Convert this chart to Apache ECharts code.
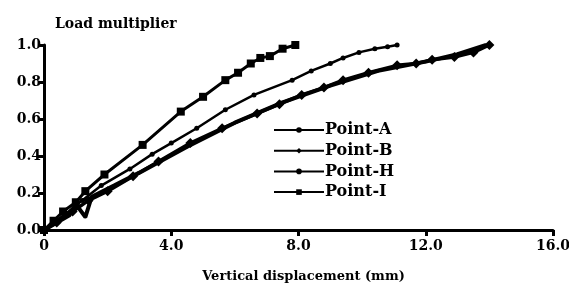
<!DOCTYPE html>
<html>
<head>
  <meta charset="utf-8">
  <title>Load multiplier</title>
  <script src="https://cdn.jsdelivr.net/npm/echarts@6/dist/echarts.min.js"></script>
  <style>
    html, body { margin: 0; padding: 0; background: #fff; }
    #chart { width: 569px; height: 288px; }
  </style>
</head>
<body>
<div id="chart"></div>
<script>
  var seriesNames = ['Point-A', 'Point-B', 'Point-H', 'Point-I'];
  var xTicks = [0, 4, 8, 12, 16];
  var yTicks = [0, 0.2, 0.4, 0.6, 0.8, 1.0];

  // [vertical displacement (mm), load multiplier]
  var pointA = [[0, 0], [0.3, 0.04], [0.7, 0.09], [1.2, 0.16], [1.8, 0.24], [2.7, 0.33], [3.4, 0.41],
    [4.0, 0.47], [4.8, 0.55], [5.7, 0.65], [6.6, 0.73], [7.8, 0.81], [8.4, 0.86], [9.0, 0.9],
    [9.4, 0.93], [9.9, 0.96], [10.4, 0.98], [10.8, 0.99], [11.1, 1.0]];
  var pointB = [[0, 0], [0.4, 0.04], [0.9, 0.1], [1.4, 0.16], [2.0, 0.21], [2.8, 0.29], [3.6, 0.37],
    [4.6, 0.47], [5.6, 0.55], [6.7, 0.63], [7.4, 0.68], [8.1, 0.73], [8.8, 0.77], [9.4, 0.81],
    [10.2, 0.85], [11.1, 0.89], [11.7, 0.9], [12.2, 0.92], [12.9, 0.935], [13.5, 0.96], [14.0, 1.0]];
  var pointH = [[0, 0], [0.3, 0.03], [0.8, 0.08], [1.0, 0.14], [1.3, 0.07], [1.5, 0.18], [2.2, 0.24],
    [3.0, 0.31], [4.5, 0.45], [6.0, 0.58], [7.5, 0.69], [9.0, 0.78], [10.5, 0.86], [12.0, 0.91],
    [13.0, 0.95], [13.9, 1.0]];
  var pointI = [[0, 0], [0.3, 0.05], [0.6, 0.1], [1.0, 0.15], [1.3, 0.21], [1.9, 0.3], [3.1, 0.46],
    [4.3, 0.64], [5.0, 0.72], [5.7, 0.81], [6.1, 0.85], [6.5, 0.9], [6.8, 0.93], [7.1, 0.94],
    [7.5, 0.98], [7.9, 1.0]];

  var font = 'DejaVu Serif';
  var chart = echarts.init(document.getElementById('chart'));

  function mkSeries(name, data, symbol, size, width) {
    return {
      name: name,
      type: 'line',
      data: data,
      symbol: symbol,
      symbolSize: size,
      lineStyle: { color: '#000', width: width },
      itemStyle: { color: '#000' }
    };
  }

  chart.setOption({
    animation: false,
    title: {
      text: 'Load multiplier',
      left: 50, top: 12,
      textStyle: { fontFamily: font, fontSize: 14, fontWeight: 'bold', color: '#000' }
    },
    legend: {
      orient: 'vertical',
      left: 268, top: 117,
      itemWidth: 50, itemHeight: 7, itemGap: 4.7,
      data: seriesNames,
      textStyle: { fontFamily: font, fontSize: 16, lineHeight: 16, fontWeight: 'bold', color: '#000', padding: [0, 0, 0, -4] }
    },
    grid: { left: 44, right: 16, top: 45, bottom: 58, outerBoundsMode: 'none' },
    xAxis: {
      type: 'value', min: 0, max: 16, interval: 4,
      name: 'Vertical displacement (mm)', nameLocation: 'middle', nameGap: 40,
      nameTextStyle: { fontFamily: font, fontSize: 13, fontWeight: 'bold', color: '#000', padding: [0, 0, 0, 10] },
      axisLine: { lineStyle: { color: '#000', width: 3 } },
      axisTick: { length: 6, lineStyle: { color: '#000', width: 3 } },
      splitLine: { show: false },
      axisLabel: {
        fontFamily: font, fontSize: 14, fontWeight: 'bold', color: '#000', margin: 9,
        formatter: function (v) { return v === 0 ? '0' : v.toFixed(1); }
      }
    },
    yAxis: {
      type: 'value', min: 0, max: 1, interval: 0.2,
      axisLine: { show: true, lineStyle: { color: '#000', width: 3 } },
      axisTick: { show: true, length: 6, lineStyle: { color: '#000', width: 3 } },
      splitLine: { show: false },
      axisLabel: {
        fontFamily: font, fontSize: 14, fontWeight: 'bold', color: '#000', margin: 3,
        formatter: function (v) { return v.toFixed(1); }
      }
    },
    series: [
      mkSeries('Point-A', pointA, 'circle', 5, 2.5),
      mkSeries('Point-B', pointB, 'diamond', 10, 3.5),
      mkSeries('Point-H', pointH, 'circle', 3, 4),
      mkSeries('Point-I', pointI, 'rect', 8, 3)
    ]
  });
</script>
</body>
</html>
